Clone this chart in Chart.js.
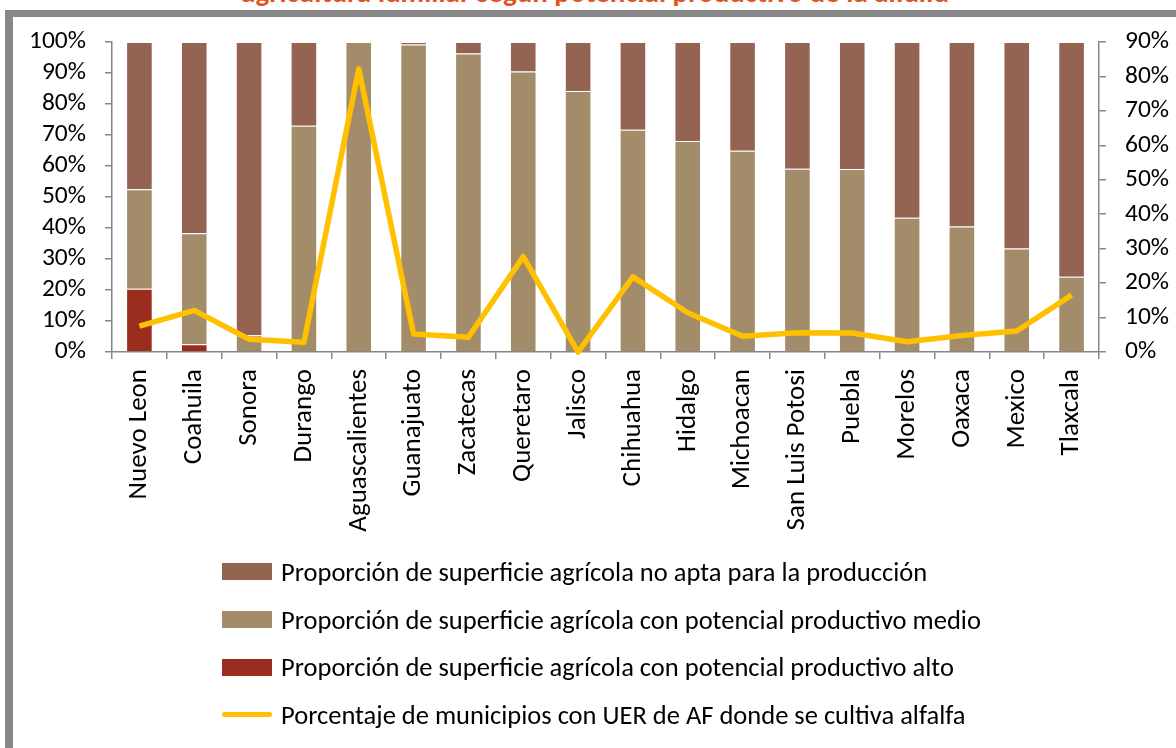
<!DOCTYPE html>
<html>
<head>
<meta charset="utf-8">
<script src="https://cdn.jsdelivr.net/npm/chart.js@4.4.0/dist/chart.umd.min.js"></script>
<style>
  body { margin: 0; background: #fff; width: 1176px; height: 748px; overflow: hidden; position: relative; font-family: Carlito, Lato, sans-serif; }
  #frame { position: absolute; left: 5px; top: 10px; width: 1200px; height: 800px; border-left: 8px solid #878787; border-top: 7px solid #878787; }
  #title { position: absolute; left: 0; width: 1190px; top: -22px; text-align: center; font: bold 29px Carlito, Lato, sans-serif; color: #e2531e; line-height: 29px; white-space: nowrap; }
  #wrap { position: absolute; left: 0; top: 0; width: 1176px; height: 560px; }
  #legend { position: absolute; left: 222px; top: 548px; }
  .row { height: 47.7px; display: flex; align-items: center; font-size: 26.5px; color: #000; white-space: nowrap; }
  .sw { width: 50px; height: 17px; margin-right: 9px; flex: none; }
  .ln { width: 50px; height: 5px; border-radius: 3px; margin-right: 9px; flex: none; }
</style>
</head>
<body>
<div id="frame"></div>
<div id="title">agricultura familiar según potencial productivo de la alfalfa</div>
<div id="wrap"><canvas id="chart"></canvas></div>
<div id="legend"></div>
<script>
const states = ['Nuevo Leon', 'Coahuila', 'Sonora', 'Durango', 'Aguascalientes', 'Guanajuato', 'Zacatecas', 'Queretaro', 'Jalisco',
  'Chihuahua', 'Hidalgo', 'Michoacan', 'San Luis Potosi', 'Puebla', 'Morelos', 'Oaxaca', 'Mexico', 'Tlaxcala'];

// % of agricultural surface by productive potential (left axis)
const alto = [20.4, 2.5, 0, 0, 0, 0, 0, 0, 0, 0, 0, 0, 0, 0, 0, 0, 0, 0];
const medio = [32.1, 35.8, 5.4, 73.0, 100, 99.2, 96.3, 90.5, 84.2, 71.7, 68.1, 64.9, 59.1, 59.0, 43.3, 40.5, 33.4, 24.3];
const noApta = [47.5, 61.7, 94.6, 27.0, 0, 0.8, 3.7, 9.5, 15.8, 28.3, 31.9, 35.1, 40.9, 41.0, 56.7, 59.5, 66.6, 75.7];

// % of municipalities with UER de AF growing alfalfa (right axis)
const municipios = [7.5, 12.1, 3.7, 2.8, 82.2, 5.2, 4.3, 27.7, 0, 21.8, 11.4, 4.6, 5.6, 5.5, 3.0, 4.8, 6.1, 16.5];

const leftTicks = [0, 10, 20, 30, 40, 50, 60, 70, 80, 90, 100];
const rightTicks = [0, 10, 20, 30, 40, 50, 60, 70, 80, 90];

const axisGray = '#868686';
const fontFam = 'Carlito, Lato, sans-serif';

const datasets = [
  { type: 'line', label: 'Porcentaje de municipios con UER de AF donde se cultiva alfalfa', data: municipios,
    yAxisID: 'y2', borderColor: '#ffc000', backgroundColor: '#ffc000', borderWidth: 5.5, pointRadius: 0,
    tension: 0, order: 0, clip: 6, borderJoinStyle: 'round' },
  { label: 'Proporción de superficie agrícola con potencial productivo alto', data: alto,
    backgroundColor: '#9b2d1f', borderColor: 'rgba(255,255,255,0.35)', borderWidth: 1, order: 1 },
  { label: 'Proporción de superficie agrícola con potencial productivo medio', data: medio,
    backgroundColor: '#a38c6a', borderColor: 'rgba(255,255,255,0.35)', borderWidth: 1, order: 1 },
  { label: 'Proporción de superficie agrícola no apta para la producción', data: noApta,
    backgroundColor: '#956352', borderColor: 'rgba(255,255,255,0.35)', borderWidth: 1, order: 1 }
];

function yAxis(ticksList, max, pos, width) {
  return {
    position: pos, min: 0, max: max, stacked: pos === 'left',
    afterFit: (s) => { s.width = width; },
    afterBuildTicks: (s) => { s.ticks = ticksList.map(v => ({ value: v })); },
    border: { color: axisGray, width: 1.5 },
    grid: { drawOnChartArea: false, color: axisGray, tickLength: 7, lineWidth: 1.5 },
    ticks: { color: '#000', padding: 19, autoSkip: false, font: { family: fontFam, size: 25.5 }, callback: v => v + '%' }
  };
}

const chart = new Chart(document.getElementById('chart'), {
  type: 'bar',
  data: { labels: states, datasets: datasets },
  options: {
    responsive: true, maintainAspectRatio: false, animation: false,
    layout: { padding: { top: 42, left: 0, right: 0, bottom: 0 } },
    datasets: { bar: { barPercentage: 0.485, categoryPercentage: 1 } },
    plugins: { legend: { display: false }, tooltip: { enabled: false } },
    scales: {
      x: {
        stacked: true,
        afterFit: (s) => { s.height = 208; },
        border: { color: axisGray, width: 1.5 },
        grid: { drawOnChartArea: false, color: axisGray, tickLength: 7, lineWidth: 1.5, offset: true },
        ticks: { color: '#000', padding: 10, minRotation: 90, maxRotation: 90, autoSkip: false, font: { family: fontFam, size: 27 } }
      },
      y: yAxis(leftTicks, 100, 'left', 112),
      y2: yAxis(rightTicks, 90, 'right', 77)
    }
  }
});

// legend in the reference order, stacked and left aligned
const legendOrder = [3, 2, 1, 0];
const legendEl = document.getElementById('legend');
legendOrder.forEach(i => {
  const ds = chart.data.datasets[i];
  const row = document.createElement('div');
  row.className = 'row';
  const mark = document.createElement('div');
  mark.className = ds.type === 'line' ? 'ln' : 'sw';
  mark.style.background = ds.backgroundColor;
  row.appendChild(mark);
  row.appendChild(document.createTextNode(ds.label));
  legendEl.appendChild(row);
});
</script>
</body>
</html>
